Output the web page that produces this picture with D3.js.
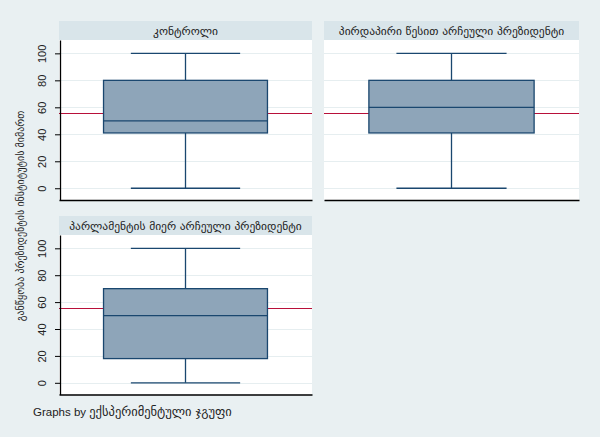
<!DOCTYPE html>
<html><head><meta charset="utf-8">
<script src="https://cdn.jsdelivr.net/npm/d3@7"></script>
<style>
html,body{margin:0;padding:0;background:#e9f0f2;}
svg{display:block;}
</style></head>
<body>
<svg id="chart" width="600" height="437"></svg>
<script>
// ---- data ----
const groups = ["კონტროლი", "პირდაპირი წესით არჩეული პრეზიდენტი", "პარლამენტის მიერ არჩეული პრეზიდენტი"];
const whiskerLow = [0, 0, 0];
const q1 = [41, 41, 18];
const medians = [50, 60, 50];
const q3 = [80, 80, 70];
const whiskerHigh = [100, 100, 100];
const overallMean = 55.6;
const yTicks = [0, 20, 40, 60, 80, 100];
const yTitle = "განწყობა პრეზიდენტის ინსტიტუტის მიმართ";
const footerLead = "Graphs by ";
const footerVar = "ექსპერიმენტული ჯგუფი";

// ---- layout ----
const panels = [
  {left: 59, right: 312, stripTop: 21, plotTop: 40, plotBottom: 200, axis: true},
  {left: 324, right: 579, stripTop: 21, plotTop: 40, plotBottom: 200, axis: false},
  {left: 59, right: 312, stripTop: 216, plotTop: 235, plotBottom: 394.5, axis: true}
];
const col = {bg: "#e9f0f2", strip: "#d9e5ea", grid: "#e6eef0", fill: "#8ea5b9", stroke: "#1a476f", mean: "#b8103a"};
const tickFont = "Liberation Sans, Arial, sans-serif";
const geoFont = "DejaVu Sans, sans-serif";

const svg = d3.select("#chart");
svg.append("rect").attr("width", 600).attr("height", 437).attr("fill", col.bg);

panels.forEach((p, i) => {
  const g = svg.append("g");
  const y = d3.scaleLinear().domain([-8.7, 109.9]).range([p.plotBottom, p.plotTop]);
  const x = d3.scaleBand().domain([groups[i]]).range([p.left, p.right]).padding(0.2136);

  // strip
  g.append("rect").attr("x", p.left).attr("y", p.stripTop).attr("width", p.right - p.left)
    .attr("height", p.plotTop - p.stripTop).attr("fill", col.strip);
  g.append("text").attr("x", (p.left + p.right) / 2).attr("y", p.plotTop - 5.5)
    .attr("text-anchor", "middle").attr("font-family", geoFont).attr("font-size", 11.5)
    .attr("fill", "#222").text(groups[i]);

  // plot area
  g.append("rect").attr("x", p.left).attr("y", p.plotTop).attr("width", p.right - p.left)
    .attr("height", p.plotBottom - p.plotTop).attr("fill", "#ffffff");

  // gridlines
  g.selectAll(".grid").data(yTicks).join("line")
    .attr("x1", p.left).attr("x2", p.right)
    .attr("y1", d => Math.round(y(d)) + 0.5).attr("y2", d => Math.round(y(d)) + 0.5)
    .attr("stroke", col.grid).attr("stroke-width", 1);

  // overall mean line
  g.append("line").attr("x1", p.left).attr("x2", p.right)
    .attr("y1", Math.round(y(overallMean)) + 0.5).attr("y2", Math.round(y(overallMean)) + 0.5)
    .attr("stroke", col.mean).attr("stroke-width", 1.2);

  // box plot
  const cx = x(groups[i]) + x.bandwidth() / 2;
  const capHalf = x.bandwidth() / 3;
  const sw = 1.3;
  g.append("line").attr("x1", cx).attr("x2", cx).attr("y1", y(whiskerLow[i])).attr("y2", y(q1[i]))
    .attr("stroke", col.stroke).attr("stroke-width", sw);
  g.append("line").attr("x1", cx).attr("x2", cx).attr("y1", y(whiskerHigh[i])).attr("y2", y(q3[i]))
    .attr("stroke", col.stroke).attr("stroke-width", sw);
  [whiskerLow[i], whiskerHigh[i]].forEach(v => {
    g.append("line").attr("x1", cx - capHalf).attr("x2", cx + capHalf).attr("y1", y(v)).attr("y2", y(v))
      .attr("stroke", col.stroke).attr("stroke-width", sw);
  });
  g.append("rect").attr("x", x(groups[i])).attr("y", y(q3[i]))
    .attr("width", x.bandwidth()).attr("height", y(q1[i]) - y(q3[i]))
    .attr("fill", col.fill).attr("stroke", col.stroke).attr("stroke-width", sw);
  g.append("line").attr("x1", x(groups[i])).attr("x2", x(groups[i]) + x.bandwidth())
    .attr("y1", y(medians[i])).attr("y2", y(medians[i]))
    .attr("stroke", col.stroke).attr("stroke-width", sw);

  // bottom axis line
  const xa = g.append("g").attr("transform", `translate(0,${p.plotBottom})`)
    .call(d3.axisBottom(x).tickValues([]).tickSizeOuter(0));
  xa.select(".domain").attr("stroke", "#000").attr("stroke-width", 1.3);

  if (p.axis) {
    const ya = g.append("g").attr("transform", `translate(${p.left + 1},0)`)
      .call(d3.axisLeft(y).tickValues(yTicks).tickSize(5).tickSizeOuter(0));
    ya.select(".domain").attr("stroke", "#000").attr("stroke-width", 1.3);
    ya.selectAll(".tick line").attr("stroke", "#000");
    ya.selectAll(".tick text")
      .attr("x", 0).attr("y", 0).attr("dy", 0)
      .attr("text-anchor", "middle")
      .attr("transform", "translate(-14,0) rotate(-90)")
      .attr("font-family", tickFont).attr("font-size", 11).attr("fill", "#222");
  }
});

// y title
svg.append("text").attr("transform", "translate(24,216) rotate(-90)")
  .attr("text-anchor", "middle").attr("font-family", geoFont).attr("font-size", 10)
  .attr("fill", "#222").text(yTitle);

// footer
const ft = svg.append("text").attr("x", 33).attr("y", 415.5)
  .attr("font-family", tickFont).attr("font-size", 11.5).attr("fill", "#222");
ft.append("tspan").text(footerLead);
ft.append("tspan").attr("font-family", geoFont).attr("font-size", 12.5).text(footerVar);
</script>
</body></html>
